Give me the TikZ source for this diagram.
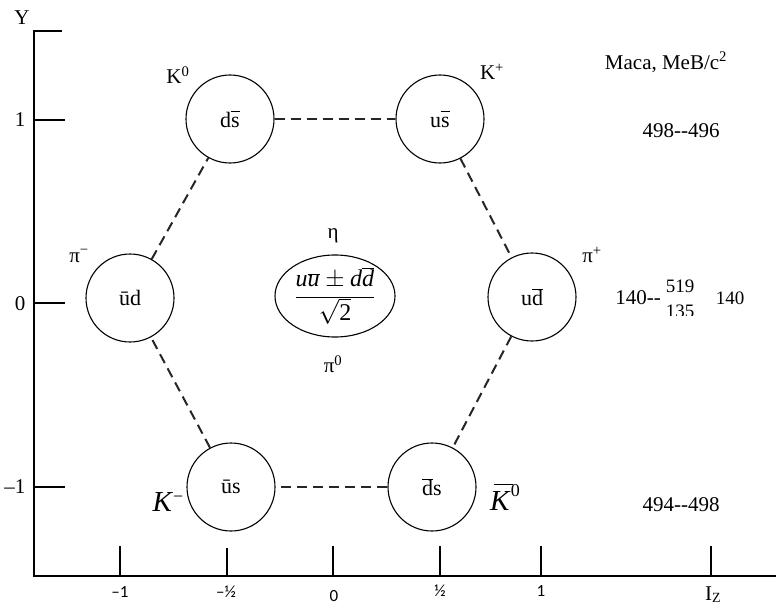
\documentclass[tikz,border=0pt]{standalone}
\usepackage{fontspec}
\setmainfont{Liberation Serif}
\newfontfamily\axisfont{Carlito}
\usetikzlibrary{shapes.geometric}
\newcommand\ob[1]{$\overline{\mbox{#1}\vphantom{d}}$}
\begin{document}
\begin{tikzpicture}[x=1pt,y=-1pt,
  meson/.style={draw, circle, minimum size=88pt, inner sep=0pt, line width=1.1pt, font=\fontsize{22}{24}\selectfont},
  link/.style={dash pattern=on 10pt off 6pt, line width=2pt, draw=black!85},
  axis/.style={line width=1.3pt},
  lab/.style={font=\fontsize{21}{24}\selectfont, inner sep=0pt},
  ticklab/.style={font=\axisfont\fontsize{17}{20}\selectfont, inner sep=0pt}]
\useasboundingbox (0,0) rectangle (776,607);
% axes
\coordinate (o) at (34,576);
\coordinate (ytop) at (34,31);
\coordinate (xend) at (776,576);
\draw[axis] (62,31) -- (ytop) -- (o) -- (xend);
\foreach \yy in {120,303,487} \draw[axis] (34,\yy) -- (65,\yy);
\foreach \xx/\tt in {120/546,227/548,333/546,440/546,541/546,711/546} \draw[axis] (\xx,\tt) -- (\xx,576);
% axis labels
\node[lab] (ylab) at (22,18) {Y};
\node[lab] (y1) at (20,120) {1};
\node[lab] (y0) at (20,304) {0};
\node[lab] (ym1) at (15,487) {\textendash1};
\node[ticklab] (xm1) at (120,592) {\textendash1};
\node[ticklab] (xmh) at (226,592) {\textendash½};
\node[ticklab] (x0) at (334,596) {0};
\node[ticklab] (xh) at (440,591) {½};
\node[ticklab] (x1) at (541,591) {1};
\node[lab] (iz) at (713,595) {I\raisebox{-0.2ex}{\fontsize{14}{16}\selectfont Z}};
% mesons
\node[meson] (k0) at (230,119) {d\ob{s}};
\node[meson] (kp) at (440,119) {u\ob{s}};
\node[meson] (pim) at (130,298) {ūd};
\node[meson] (pip) at (532,297) {u\ob{d}};
\node[meson] (km) at (231,487) {ūs};
\node[meson] (k0b) at (432,487) {\ob{d}s};
\node[draw, ellipse, minimum width=120pt, minimum height=82pt, inner sep=0pt, line width=1.1pt, font=\fontsize{24}{26}\selectfont] (eta) at (335,296)
  {$\displaystyle\frac{\mbox{\textit{u}}\overline{\mbox{\textit{u}}}\pm\mbox{\textit{d}}\overline{\mbox{\textit{d}}}}{\sqrt{\mbox{2}}}$};
% links
\draw[link] (k0) -- (kp);
\draw[link] (kp) -- (pip);
\draw[link] (pip) -- (k0b);
\draw[link] (k0b) -- (km);
\draw[link] (km) -- (pim);
\draw[link] (pim) -- (k0);
% particle labels
\node[lab] (lk0) at (178,75) {K\textsuperscript{0}};
\node[lab] (lkp) at (492,72) {K\textsuperscript{+}};
\node[lab] (lpim) at (79,256) {π\textsuperscript{−}};
\node[lab] (lpip) at (592,255) {π\textsuperscript{+}};
\node[lab] (leta) at (333,236) {η};
\node[lab] (lpi0) at (333,364) {π\textsuperscript{0}};
\node[lab, font=\fontsize{29}{32}\selectfont] (lkm) at (168,502) {\textit{K}\raisebox{0.7ex}{\fontsize{18}{20}\selectfont −}};
\node[lab, font=\fontsize{29}{32}\selectfont] (lk0b) at (505,497) {\makebox[0pt][l]{\hspace{0.12em}\raisebox{0.86em}{\rule{0.66em}{0.05em}}}\textit{K}\raisebox{1.05ex}{\fontsize{18}{20}\selectfont 0}};
% masses
\node[lab] (mass) at (666,62) {Maca, MeB/c\textsuperscript{2}};
\node[lab] (m1) at (681,131) {498{-}{-}496};
\node[lab] (m2a) at (638,298) {140{-}{-}};
\node[lab, font=\fontsize{19}{22}\selectfont] (m2b) at (680,286) {519};
\begin{scope}
  \clip (660,300) rectangle (700,315);
  \node[lab, font=\fontsize{19}{22}\selectfont] (m2c) at (680,311) {135};
\end{scope}
\node[lab, font=\fontsize{19}{22}\selectfont] (m2d) at (730,298) {140};
\node[lab] (m3) at (681,505) {494{-}{-}498};
\end{tikzpicture}
\end{document}
